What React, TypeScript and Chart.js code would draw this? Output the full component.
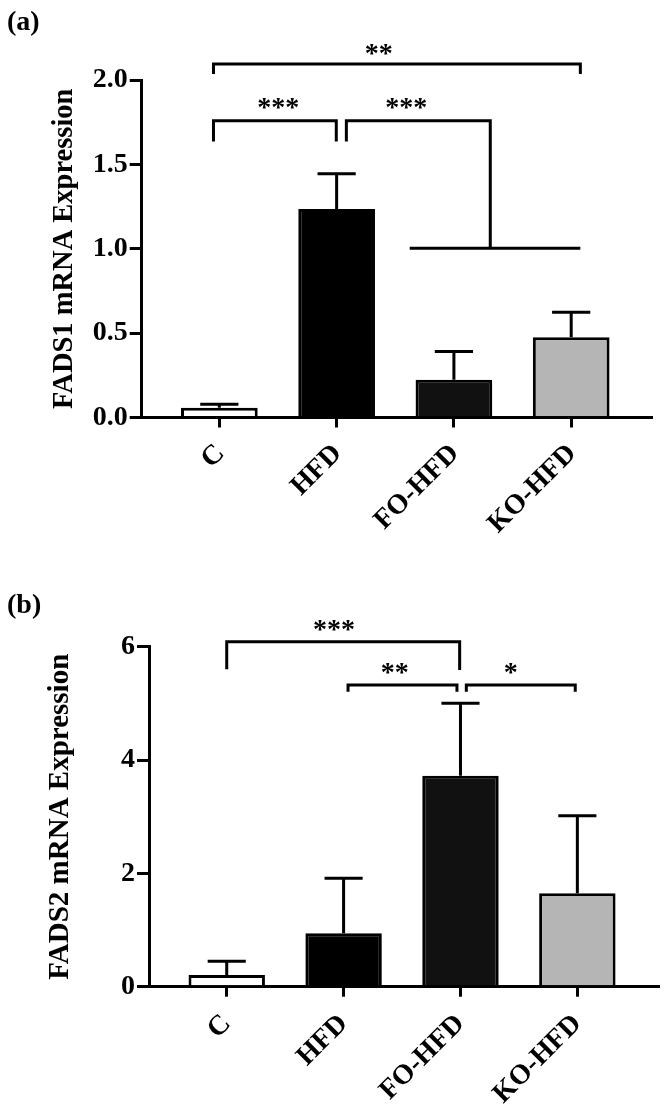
import React, { useEffect, useRef } from 'react';
import { Chart, registerables } from 'chart.js';

Chart.register(...registerables);

const FONT = "'Liberation Serif', 'Times New Roman', serif";

// ---------- data ----------
const categories = ['C', 'HFD', 'FO-HFD', 'KO-HFD'];
const barColors = ['#ffffff', '#000000', '#111111', '#b5b5b5'];

const fads1Mean = [0.058, 1.236, 0.223, 0.476];
const fads1ErrTop = [0.079, 1.444, 0.391, 0.624];
const fads1Ticks = [0, 0.5, 1.0, 1.5, 2.0];

const fads2Mean = [0.206, 0.942, 3.723, 1.648];
const fads2ErrTop = [0.448, 1.913, 5.0, 3.018];
const fads2Ticks = [0, 2, 4, 6];

// significance brackets in data units (x = category index, y = value)
const fads1Brackets = [
  { pts: [[-0.05, 2.036], [-0.05, 2.095], [3.078, 2.095], [3.078, 2.036]], label: '**', lx: 1.36, ly: 2.174 },
  { pts: [[-0.05, 1.635], [-0.05, 1.759], [0.997, 1.759], [0.997, 1.635]], label: '***', lx: 0.503, ly: 1.852 },
  { pts: [[1.083, 1.635], [1.083, 1.759], [2.31, 1.759], [2.31, 1.0036]], label: '***', lx: 1.594, ly: 1.852 },
  { pts: [[1.623, 1.0036], [3.078, 1.0036]], label: '', lx: 0, ly: 0 },
];
const fads2Brackets = [
  { pts: [[0, 5.6], [0, 6.088], [1.993, 6.088], [1.993, 5.59]], label: '***', lx: 0.918, ly: 6.353 },
  { pts: [[1.038, 5.206], [1.038, 5.324], [1.97, 5.324], [1.97, 5.206]], label: '**', lx: 1.437, ly: 5.589 },
  { pts: [[2.05, 5.206], [2.05, 5.324], [2.982, 5.324], [2.982, 5.206]], label: '*', lx: 2.43, ly: 5.589 },
];

type Bracket = { pts: number[][]; label: string; lx: number; ly: number };

function makeOverlay(errTop: number[], brackets: Bracket[], panel: string, panelBaseline: number) {
  return {
    id: 'overlay',
    afterDatasetsDraw(chart: any) {
      const ctx = chart.ctx;
      const xs = chart.scales.x;
      const ys = chart.scales.y;
      const meta = chart.getDatasetMeta(0);
      ctx.save();
      ctx.strokeStyle = '#000';
      ctx.fillStyle = '#000';
      ctx.lineWidth = 3;
      ctx.lineCap = 'butt';
      ctx.lineJoin = 'miter';
      meta.data.forEach((el: any, i: number) => {
        const x = el.x;
        const yTop = el.y;
        const yErr = ys.getPixelForValue(errTop[i]);
        const half = (xs.getPixelForValue(i + 0.163) - xs.getPixelForValue(i - 0.163)) / 2;
        ctx.beginPath();
        ctx.moveTo(x, yTop);
        ctx.lineTo(x, yErr);
        ctx.moveTo(x - half, yErr);
        ctx.lineTo(x + half, yErr);
        ctx.stroke();
      });
      brackets.forEach((b) => {
        ctx.beginPath();
        b.pts.forEach(([u, v], k) => {
          const px = xs.getPixelForValue(u);
          const py = ys.getPixelForValue(v);
          if (k === 0) ctx.moveTo(px, py);
          else ctx.lineTo(px, py);
        });
        ctx.stroke();
        if (b.label) {
          ctx.font = `bold 28px ${FONT}`;
          ctx.textAlign = 'center';
          ctx.textBaseline = 'middle';
          ctx.fillText(b.label, xs.getPixelForValue(b.lx), ys.getPixelForValue(b.ly) + 4);
        }
      });
      ctx.font = `bold 28px ${FONT}`;
      ctx.textAlign = 'left';
      ctx.textBaseline = 'alphabetic';
      ctx.fillText(panel, 7, panelBaseline);
      ctx.restore();
    },
  };
}

type PanelProps = {
  height: number;
  mean: number[];
  errTop: number[];
  yTicks: number[];
  yMax: number;
  yDecimals: number;
  title: string;
  titleSize: number;
  titlePad: number;
  brackets: Bracket[];
  panel: string;
  panelBaseline: number;
  yAxisWidth: number;
  xAxisHeight: number;
  padTop: number;
  padRight: number;
  xMin: number;
  xMax: number;
  labelPad: number;
  labelOffset: number;
};

function Panel(p: PanelProps) {
  const ref = useRef<HTMLCanvasElement | null>(null);
  useEffect(() => {
    if (!ref.current) return;
    const chart = new Chart(ref.current, {
      type: 'bar',
      data: {
        datasets: [
          {
            data: p.mean.map((v, i) => ({ x: i, y: v })),
            backgroundColor: barColors,
            borderColor: '#000',
            borderWidth: 3,
            barPercentage: 0.654,
            categoryPercentage: 1,
          },
        ],
      },
      options: {
        animation: false,
        responsive: false,
        devicePixelRatio: 1,
        layout: { padding: { top: p.padTop, right: p.padRight, left: 0, bottom: 0 } },
        plugins: { legend: { display: false }, tooltip: { enabled: false } },
        scales: {
          x: {
            type: 'linear',
            min: p.xMin,
            max: p.xMax,
            offset: false,
            afterBuildTicks: (scale: any) => {
              scale.ticks = categories.map((_, i) => ({ value: i }));
            },
            afterFit: (scale: any) => {
              scale.height = p.xAxisHeight;
            },
            grid: {
              offset: false,
              drawOnChartArea: false,
              drawTicks: true,
              tickLength: 10,
              lineWidth: 3,
              color: '#000',
            },
            border: { display: true, color: '#000', width: 3 },
            ticks: {
              autoSkip: false,
              maxRotation: 45,
              minRotation: 45,
              padding: p.labelPad,
              labelOffset: p.labelOffset,
              color: '#000',
              font: { family: FONT, size: 28, weight: 'bold' },
              callback: (v: any) => categories[Math.round(Number(v))] ?? '',
            },
          },
          y: {
            type: 'linear',
            min: 0,
            max: p.yMax,
            afterBuildTicks: (scale: any) => {
              scale.ticks = p.yTicks.map((v) => ({ value: v }));
            },
            afterFit: (scale: any) => {
              scale.width = p.yAxisWidth;
            },
            grid: {
              drawOnChartArea: false,
              drawTicks: true,
              tickLength: 12,
              lineWidth: 3,
              color: '#000',
            },
            border: { display: true, color: '#000', width: 3 },
            ticks: {
              padding: 2,
              color: '#000',
              font: { family: FONT, size: 28, weight: 'bold' },
              callback: (v: any) => Number(v).toFixed(p.yDecimals),
            },
            title: {
              display: true,
              text: p.title,
              color: '#000',
              font: { family: FONT, size: p.titleSize, weight: 'bold' },
              padding: { top: p.titlePad, bottom: 0 },
            },
          },
        },
      },
      plugins: [makeOverlay(p.errTop, p.brackets, p.panel, p.panelBaseline)],
    } as any);
    return () => chart.destroy();
  }, []);
  return <canvas ref={ref} width={667} height={p.height} style={{ display: 'block', width: 667, height: p.height }} />;
}

export default function App() {
  return (
    <div style={{ position: 'absolute', left: 0, top: 0, width: 667, height: 1107, background: '#fff' }}>
      <Panel
        height={560}
        mean={fads1Mean}
        errTop={fads1ErrTop}
        yTicks={fads1Ticks}
        yMax={2}
        yDecimals={1}
        title="FADS1 mRNA Expression"
        titleSize={28.5}
        titlePad={48}
        brackets={fads1Brackets}
        panel="(a)"
        panelBaseline={30}
        yAxisWidth={141.7}
        xAxisHeight={142.5}
        padTop={80}
        padRight={15.7}
        xMin={-0.662}
        xMax={3.683}
        labelPad={10}
        labelOffset={1}
      />
      <Panel
        height={547}
        mean={fads2Mean}
        errTop={fads2ErrTop}
        yTicks={fads2Ticks}
        yMax={6}
        yDecimals={0}
        title="FADS2 mRNA Expression"
        titleSize={29}
        titlePad={43}
        brackets={fads2Brackets}
        panel="(b)"
        panelBaseline={53}
        yAxisWidth={149}
        xAxisHeight={120.3}
        padTop={86.7}
        padRight={9}
        xMin={-0.665}
        xMax={3.69}
        labelPad={11}
        labelOffset={0}
      />
    </div>
  );
}
